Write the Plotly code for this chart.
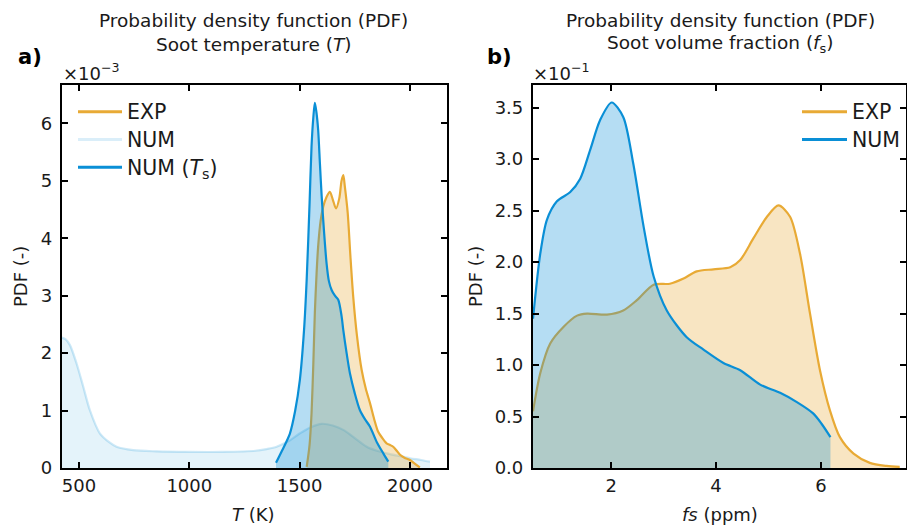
import plotly.graph_objects as go

# ---- Soot temperature PDFs (values in units of 1e-3 1/K) ----
T_num_all = [422, 440, 459, 489, 519, 549, 595, 640, 670, 746, 850, 1000, 1150, 1300, 1350,
             1396, 1450, 1500, 1550, 1600, 1650, 1700, 1750, 1804, 1850, 1900, 1950, 2000,
             2050, 2091]
pdf_num_all = [2.27, 2.24, 2.14, 1.82, 1.42, 1.01, 0.60, 0.44, 0.37, 0.31, 0.29, 0.28, 0.28,
               0.30, 0.33, 0.37, 0.47, 0.60, 0.71, 0.77, 0.74, 0.66, 0.52, 0.37, 0.30, 0.25,
               0.21, 0.17, 0.14, 0.11]

T_num_s = [1393, 1420, 1456, 1480, 1501, 1520, 1532, 1545, 1554, 1562, 1569, 1576, 1584, 1592,
           1600, 1611, 1622, 1633, 1645, 1660, 1675, 1690, 1698, 1713, 1728, 1750, 1773, 1796,
           1819, 1850, 1880, 1902]
pdf_num_s = [0.09, 0.30, 0.60, 1.00, 1.53, 2.40, 3.28, 4.60, 5.60, 6.10, 6.36, 6.20, 5.89, 5.30,
             4.73, 4.10, 3.57, 3.25, 3.10, 3.00, 2.93, 2.65, 2.40, 2.00, 1.65, 1.30, 1.01, 0.85,
             0.72, 0.45, 0.25, 0.11]

T_exp = [1532, 1545, 1554, 1562, 1569, 1577, 1584, 1595, 1607, 1622, 1637, 1650, 1665, 1680,
         1690, 1698, 1705, 1718, 1730, 1743, 1760, 1781, 1800, 1819, 1838, 1856, 1875, 1894,
         1910, 1924, 1940, 1955, 1975, 2000, 2020, 2045]
pdf_T_exp = [0.02, 0.40, 0.95, 1.80, 2.70, 3.40, 3.86, 4.30, 4.55, 4.72, 4.81, 4.68, 4.52, 4.70,
             5.00, 5.10, 4.90, 4.44, 3.70, 2.98, 2.30, 1.71, 1.38, 1.13, 0.85, 0.63, 0.52, 0.43,
             0.40, 0.37, 0.30, 0.23, 0.18, 0.14, 0.08, 0.01]

# ---- Soot volume fraction PDFs (values in units of 1e-1 1/ppm) ----
fs_num = [0.51, 0.648, 0.775, 0.966, 1.22, 1.41, 1.60, 1.79, 2.01, 2.23, 2.42, 2.62, 2.81, 3.06,
          3.44, 3.76, 4.14, 4.46, 4.84, 5.22, 5.54, 5.85, 6.01, 6.18]
pdf_fs_num = [1.45, 2.08, 2.41, 2.59, 2.68, 2.81, 3.09, 3.38, 3.55, 3.41, 2.96, 2.34, 1.86, 1.53,
              1.27, 1.15, 1.02, 0.95, 0.81, 0.73, 0.64, 0.53, 0.43, 0.30]

fs_exp = [0.51, 0.648, 0.838, 1.09, 1.35, 1.54, 1.92, 2.23, 2.49, 2.81, 3.12, 3.38, 3.63, 3.95,
          4.27, 4.46, 4.71, 4.97, 5.19, 5.41, 5.60, 5.79, 5.98, 6.17, 6.36, 6.62, 6.93, 7.25, 7.50]
pdf_fs_exp = [0.55, 0.92, 1.21, 1.37, 1.48, 1.50, 1.49, 1.53, 1.63, 1.78, 1.79, 1.84, 1.91, 1.93,
              1.95, 2.02, 2.23, 2.44, 2.55, 2.44, 2.08, 1.50, 0.95, 0.56, 0.30, 0.14, 0.05, 0.02,
              0.01]

T_ticks = [500, 1000, 1500, 2000]
T_pdf_ticks = [0, 1, 2, 3, 4, 5, 6]
fs_ticks = [2, 4, 6]
fs_pdf_ticks = [0.0, 0.5, 1.0, 1.5, 2.0, 2.5, 3.0, 3.5]

ORANGE = "#E8AA35"
BLUE = "#0A8FD6"
FONT = "DejaVu Sans"
TXT = "#1a1a1a"
W, H = 907, 527


def px(x):
    return x / W


def py(y):
    return 1 - y / H


def big(s):
    # legend label text, set larger than the legend's row-height font
    return '<span style="font-size:20.5px">' + s + "</span>"


fig = go.Figure()


def curve(x, y, color, fill, width, xa, ya):
    fig.add_trace(go.Scatter(
        x=x, y=y, mode="lines", xaxis=xa, yaxis=ya, showlegend=False,
        line=dict(color=color, width=width, shape="spline", smoothing=0.8),
        fill="tozeroy", fillcolor=fill, hoverinfo="skip"))


# panel a
curve(T_num_all, pdf_num_all, "rgba(10,143,214,0.2)", "rgba(10,143,214,0.11)", 2.2, "x", "y")
curve(T_exp, pdf_T_exp, ORANGE, "rgba(232,170,53,0.3)", 2.2, "x", "y")
curve(T_num_s, pdf_num_s, BLUE, "rgba(10,143,214,0.3)", 2.2, "x", "y")

# panel b
curve(fs_exp, pdf_fs_exp, ORANGE, "rgba(232,170,53,0.3)", 2.2, "x2", "y2")
curve(fs_num, pdf_fs_num, BLUE, "rgba(10,143,214,0.3)", 2.2, "x2", "y2")

# legend entries (line samples only)
for name, col, lg in [("EXP", ORANGE, "legend"),
                      ("NUM", "rgba(10,143,214,0.15)", "legend"),
                      ("NUM (<i>T</i><sub>s</sub>)", BLUE, "legend"),
                      ("EXP", ORANGE, "legend2"),
                      ("NUM", BLUE, "legend2")]:
    fig.add_trace(go.Scatter(x=[None], y=[None], mode="lines", name=big(name),
                             line=dict(color=col, width=3), legend=lg,
                             xaxis="x" if lg == "legend" else "x2",
                             yaxis="y" if lg == "legend" else "y2"))

frame = dict(showline=True, linecolor="black", linewidth=2.2, mirror="allticks",
             ticks="inside", ticklen=6, tickwidth=2, tickcolor="black",
             showgrid=False, zeroline=False, automargin=False,
             tickfont=dict(family=FONT, size=18, color=TXT))

ydom = [py(468), py(85)]
legfont = dict(family=FONT, size=19, color=TXT)
fig.update_layout(
    width=W, height=H, margin=dict(l=0, r=0, t=0, b=0, autoexpand=False),
    plot_bgcolor="white", paper_bgcolor="white",
    font=dict(family=FONT, size=18, color=TXT),
    xaxis=dict(domain=[px(62), px(447)], range=[423, 2168], tickvals=T_ticks,
               anchor="y", **frame),
    yaxis=dict(domain=ydom, range=[0, 6.67], tickvals=T_pdf_ticks, anchor="x",
               ticklabelstandoff=4, **frame),
    xaxis2=dict(domain=[px(533), px(906)], range=[0.51, 7.62], tickvals=fs_ticks,
                anchor="y2", **frame),
    yaxis2=dict(domain=ydom, range=[0, 3.72], tickvals=fs_pdf_ticks, tickformat=".1f",
                anchor="x2", ticklabelstandoff=4, **frame),
    legend=dict(x=px(73), y=py(93), xanchor="left", yanchor="top", itemwidth=44,
                bgcolor="rgba(0,0,0,0)", font=legfont, tracegroupgap=0),
    legend2=dict(x=px(797), y=py(93), xanchor="left", yanchor="top", itemwidth=45,
                 bgcolor="rgba(0,0,0,0)", font=legfont),
)

ann = []
for cx, sub in [(254, "Soot temperature (<i>T</i>)"),
                (720, "Soot volume fraction (<i>f</i><sub>s</sub>)")]:
    for cy, line in [(21, "Probability density function (PDF)"), (44, sub)]:
        ann.append(dict(x=px(cx), y=py(cy), xref="paper", yref="paper", showarrow=False,
                        xanchor="center", yanchor="middle", text=line,
                        font=dict(family=FONT, size=18.5, color=TXT)))
for cx, lab in [(30, "<b>a)</b>"), (499, "<b>b)</b>")]:
    ann.append(dict(x=px(cx), y=py(57), xref="paper", yref="paper", showarrow=False,
                    xanchor="center", yanchor="middle", text=lab,
                    font=dict(family=FONT, size=21, color="black")))
for lx, lab in [(61, "×10<sup>−3</sup>"), (531, "×10<sup>−1</sup>")]:
    ann.append(dict(x=px(lx), y=py(72), xref="paper", yref="paper", showarrow=False,
                    xanchor="left", yanchor="middle", text=lab,
                    font=dict(family=FONT, size=18, color=TXT)))
for cx, lab in [(20, "PDF (-)"), (475, "PDF (-)")]:
    ann.append(dict(x=px(cx), y=py(277), xref="paper", yref="paper", showarrow=False,
                    xanchor="center", yanchor="middle", text=lab, textangle=-90,
                    font=dict(family=FONT, size=18, color=TXT)))
for cx, lab in [(254, "<i>T</i> (K)"), (720, "<i>fs</i> (ppm)")]:
    ann.append(dict(x=px(cx), y=py(514), xref="paper", yref="paper", showarrow=False,
                    xanchor="center", yanchor="middle", text=lab,
                    font=dict(family=FONT, size=18, color=TXT)))
fig.update_layout(annotations=ann)

fig.write_html("out.html")
